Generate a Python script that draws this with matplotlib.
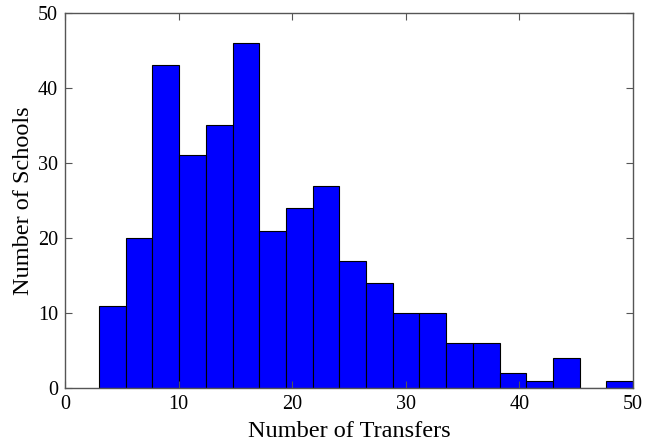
import numpy as np
import matplotlib.pyplot as plt

# histogram of transfers per school (20 bins between 3 and 50)
bin_lo = 3
bin_hi = 50
n_bins = 20
counts = [11, 20, 43, 31, 35, 46, 21, 24, 27, 17, 14, 10, 10, 6, 6, 2, 1, 4, 0, 1]
x_ticks = [0, 10, 20, 30, 40, 50]
y_ticks = [0, 10, 20, 30, 40, 50]

plt.rcParams['font.family'] = ['Liberation Serif', 'DejaVu Serif']
plt.rcParams['font.size'] = 14

fig = plt.figure(figsize=(6.45, 4.48), dpi=100)
ax = fig.add_axes([0.1008, 0.1339, 0.8806, 0.8371])

edges = np.linspace(bin_lo, bin_hi, n_bins + 1)
centers = (edges[:-1] + edges[1:]) / 2
ax.hist(centers, bins=edges, weights=counts, color='#0000ff',
        edgecolor='black', linewidth=0.8)

ax.set_xlim(0, 50)
ax.set_ylim(0, 50)
ax.set_xticks(x_ticks)
ax.set_yticks(y_ticks)
ax.tick_params(direction='in', top=True, right=True, length=5,
               color='#555555', pad=5, labelsize=14.5)
for s in ax.spines.values():
    s.set_color('#555555')
    s.set_linewidth(1.0)

ax.set_xlabel('Number of Transfers', fontsize=17.5, labelpad=5)
ax.set_ylabel('Number of Schools', fontsize=17.5, labelpad=3)

fig.savefig('out.png', dpi=100)
